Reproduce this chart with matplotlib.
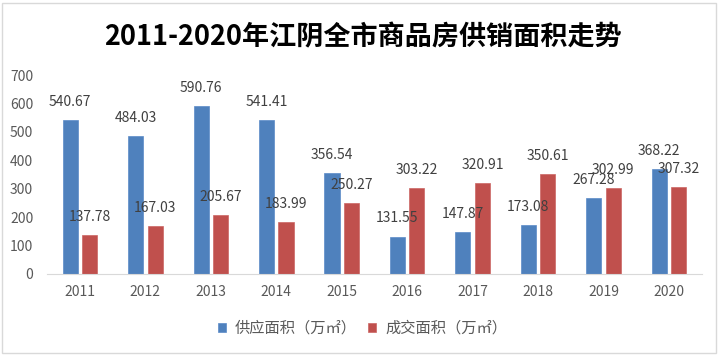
import matplotlib
matplotlib.use("Agg")
import matplotlib.pyplot as plt
from matplotlib.patches import Rectangle
import numpy as np

plt.rcParams['font.family'] = ['Noto Sans CJK SC', 'DejaVu Sans']

years = ['2011', '2012', '2013', '2014', '2015', '2016', '2017', '2018', '2019', '2020']
supply = [540.67, 484.03, 590.76, 541.41, 356.54, 131.55, 147.87, 173.08, 267.28, 368.22]
deal = [137.78, 167.03, 205.67, 183.99, 250.27, 303.22, 320.91, 350.61, 302.99, 307.32]
series_names = ['供应面积（万㎡）', '成交面积（万㎡）']
title = '2011-2020年江阴全市商品房供销面积走势'

blue = '#4F81BD'
red = '#C0504D'
txt = '#404040'

fig = plt.figure(figsize=(7.25, 3.59), dpi=100)
fig.patches.append(Rectangle((0.003, 0.017), 0.985, 0.975, transform=fig.transFigure,
                             fill=False, edgecolor='#D9D9D9', linewidth=1.0))
ax = fig.add_axes([0.065, 0.237, 0.903, 0.554])

x = np.arange(len(years))
w = 0.23
off = 0.149
b1 = ax.bar(x - off, supply, w, color=blue, edgecolor='#5B8BC8', linewidth=0.5, label=series_names[0])
b2 = ax.bar(x + off, deal, w, color=red, edgecolor='#CC6663', linewidth=0.5, label=series_names[1])

for xi, v in zip(x - off, supply):
    ax.annotate(f'{v:.2f}', (xi, v), xytext=(0, 13), textcoords='offset points',
                ha='center', va='center', fontsize=10, color=txt)
for xi, v in zip(x + off, deal):
    ax.annotate(f'{v:.2f}', (xi, v), xytext=(0, 13), textcoords='offset points',
                ha='center', va='center', fontsize=10, color=txt)

ax.set_xlim(-0.5, len(years) - 0.5)
ax.set_ylim(0, 700)
ax.set_yticks(range(0, 701, 100))
ax.set_xticks(x)
ax.set_xticklabels(years)
for s in ['top', 'right', 'left']:
    ax.spines[s].set_visible(False)
ax.spines['bottom'].set_color('#D9D9D9')
ax.tick_params(axis='both', length=0, labelsize=10, colors='#595959')
ax.tick_params(axis='y', pad=10)
ax.tick_params(axis='x', pad=8)

fig.text(0.5, 0.895, title, ha='center', va='center', fontsize=19.5, fontweight='bold', color='black')

fig.legend(handles=[b1, b2], labels=series_names, loc='center', bbox_to_anchor=(0.5, 0.085),
           ncol=2, frameon=False, fontsize=11, handlelength=0.55, handleheight=0.55,
           handletextpad=0.6, columnspacing=0.7, labelcolor='#595959')

fig.savefig('out.png', dpi=100)
